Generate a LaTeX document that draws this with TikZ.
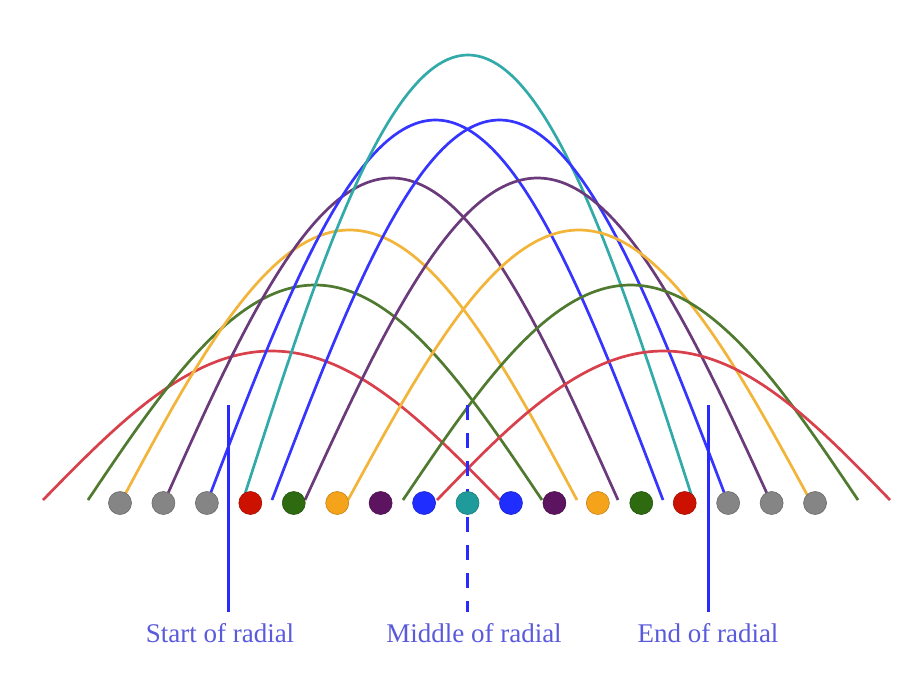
\documentclass[tikz,border=0pt]{standalone}
\usepackage{fontspec}
\setmainfont{Liberation Serif}
\definecolor{cRed}{HTML}{D8404C}
\definecolor{cGreen}{HTML}{4F7A30}
\definecolor{cOrange}{HTML}{F2B53A}
\definecolor{cPurple}{HTML}{6B3A7A}
\definecolor{cBlue}{HTML}{3535FF}
\definecolor{cTeal}{HTML}{33AAAA}
\definecolor{dGray}{HTML}{858585}
\definecolor{dRed}{HTML}{CC1100}
\definecolor{dGreen}{HTML}{2D6A10}
\definecolor{dOrange}{HTML}{F5A31A}
\definecolor{dPurple}{HTML}{5C1460}
\definecolor{dBlue}{HTML}{1F2DFF}
\definecolor{dTeal}{HTML}{1F9B9B}
\definecolor{lineBlue}{HTML}{2A2AFF}
\definecolor{labBlue}{HTML}{5A5ADC}
\begin{document}
\begin{tikzpicture}[x=1pt,y=-1pt,
  arch/.style={line width=2.7pt},
  dotnode/.style={circle,inner sep=0pt,minimum size=23pt,fill=#1,draw=#1!80!black,line width=0.6pt},
  marker/.style={lineBlue,line width=3pt},
  lab/.style={labBlue,font=\fontsize{27}{30}\selectfont,inner sep=0pt,anchor=base}]
\useasboundingbox (0,0) rectangle (910,688);
\fill[white] (0,0) rectangle (910,688);
% arches: x0 / x1 / peak y / colour
\foreach \a/\b/\p/\c in {
  43/500/351/cRed, 88/542/285/cGreen, 122/577/230/cOrange, 165/618/178/cPurple,
  208/663/120/cBlue, 243/693/55/cTeal, 272/727/120/cBlue, 305/770/178/cPurple,
  348/810/230/cOrange, 403/858/285/cGreen, 437/890/351/cRed}{
  \draw[arch,\c] plot[domain=0:180,samples=70,smooth] ({\a+(\b-\a)/180*\x},{500-(500-\p)*sin(\x)});
}
% radial markers
\node[lab] (lstart) at (220,642) {Start of radial};
\node[lab] (lmid) at (474,642) {Middle of radial};
\node[lab] (lend) at (708,642) {End of radial};
\coordinate (tstart) at (228,405);
\coordinate (tmid) at (467,405);
\coordinate (tend) at (708,405);
\coordinate (bstart) at (228,612);
\coordinate (bmid) at (467,612);
\coordinate (bend) at (708,612);
\draw[marker] (tstart) -- (bstart);
\draw[marker] (tend) -- (bend);
\draw[marker,dash pattern=on 15pt off 13pt] (tmid) -- (bmid);
% dots
\foreach \i/\c in {0/dGray,1/dGray,2/dGray,3/dRed,4/dGreen,5/dOrange,6/dPurple,7/dBlue,8/dTeal,
  9/dBlue,10/dPurple,11/dOrange,12/dGreen,13/dRed,14/dGray,15/dGray,16/dGray}{
  \node[dotnode=\c] (d\i) at ({120+43.44*\i},503) {};
}
\end{tikzpicture}
\end{document}
